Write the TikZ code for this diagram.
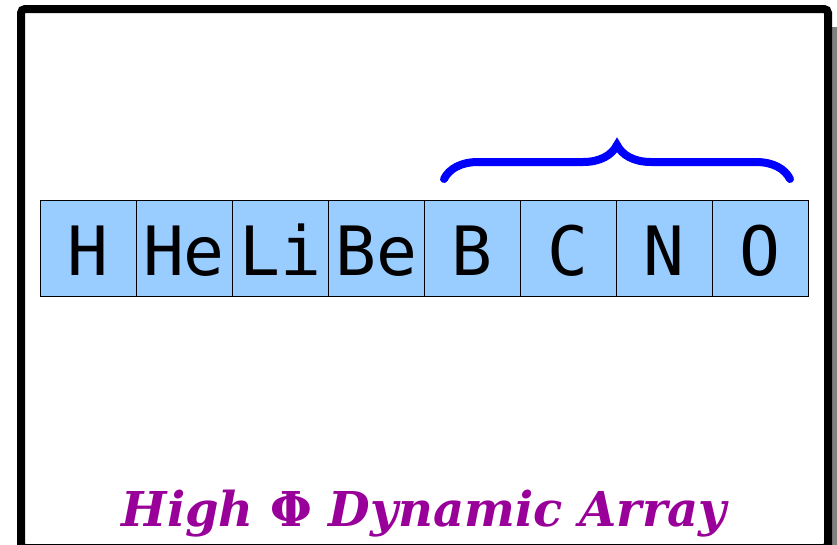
\documentclass[tikz,border=0pt]{standalone}
\usepackage{fontspec}
\usepackage{tikz}
\usetikzlibrary{positioning, decorations.pathreplacing}
\newfontfamily\cellfont{DejaVu Sans Mono}
\newfontfamily\titlefont{DejaVu Serif}
\definecolor{cellblue}{HTML}{99CCFF}
\definecolor{titlepurple}{HTML}{990099}
\tikzset{
	elem/.style={draw=black, line width=0.8pt, fill=cellblue, minimum width=96pt, minimum height=96pt, inner sep=0pt, outer sep=0pt, text height=54pt, text depth=0pt, font=\cellfont\fontsize{68}{68}\selectfont},
	bracket/.style={draw=blue, line width=8pt, line cap=round, decorate, decoration={brace, amplitude=34pt}}
}

\begin{document}
\begin{tikzpicture}[x=1pt, y=-1pt]
				\useasboundingbox (0,0) rectangle (837,544);
				\fill[gray] (30,27) rectangle (841,560);
				\draw[line width=8pt, rounded corners=4pt, fill=white] (21,9) rectangle (828,548);
				\node[elem, anchor=north west] (c1) at (40,200) {H};
				\foreach \sym [count=\i from 2, evaluate=\i as \j using int(\i-1)] in {He,Li,Be,B,C,N,O}
					\node[elem, right=0pt of c\j] (c\i) {\sym};
				\coordinate (bl) at ([shift={(20,-21)}]c5.north west);
				\coordinate (br) at ([shift={(-18,-21)}]c8.north east);
				\draw[bracket] (bl) -- (br);
				\node[text=titlepurple, font=\titlefont\bfseries\itshape\fontsize{48}{48}\selectfont, anchor=base] (title) at (424,526) {High {\upshape Φ} Dynamic Array};
			\end{tikzpicture}
\end{document}
